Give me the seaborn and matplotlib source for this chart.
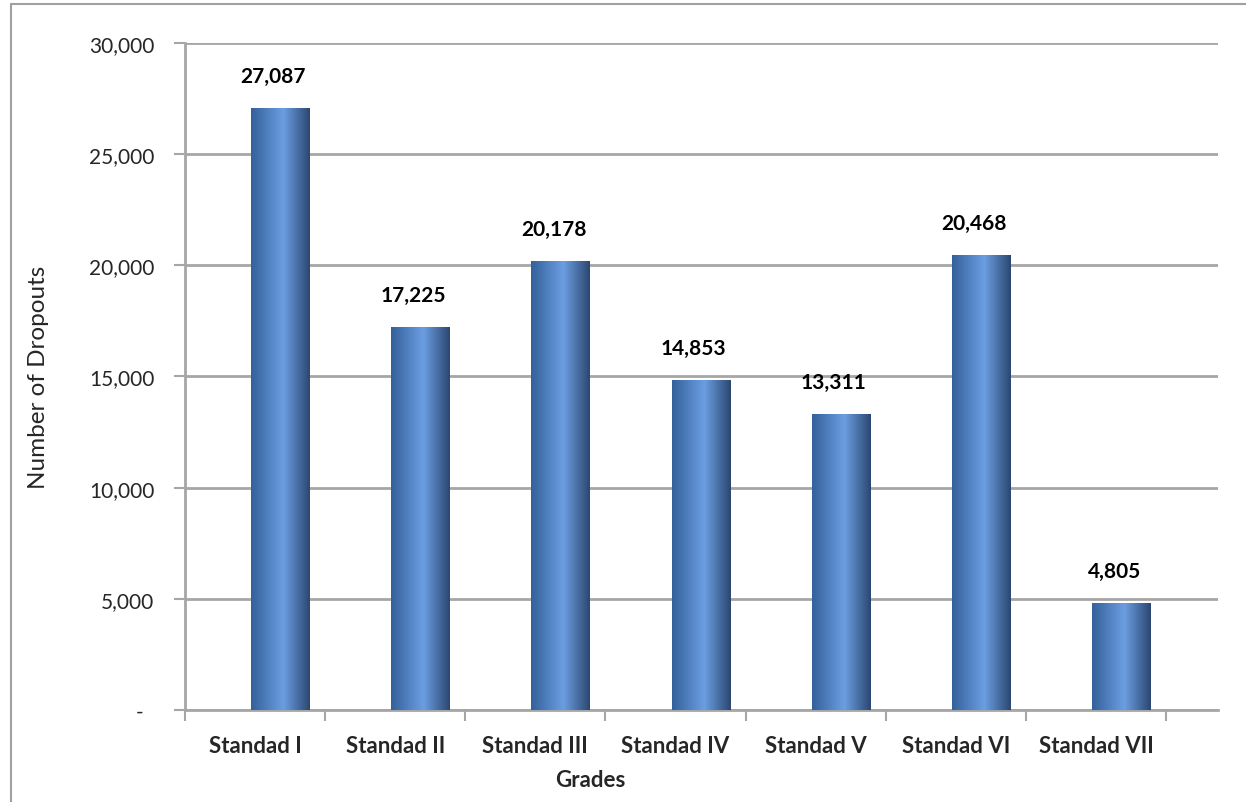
import numpy as np
import pandas as pd
import matplotlib
matplotlib.use('Agg')
import matplotlib.pyplot as plt
from matplotlib.colors import LinearSegmentedColormap
from matplotlib.lines import Line2D
from matplotlib.ticker import FuncFormatter
import seaborn as sns

grades = ['Standad I', 'Standad II', 'Standad III', 'Standad IV',
          'Standad V', 'Standad VI', 'Standad VII']
dropouts = [27087, 17225, 20178, 14853, 13311, 20468, 4805]
y_ticks = [0, 5000, 10000, 15000, 20000, 25000, 30000]

sns.set_style('white')
plt.rcParams['font.family'] = ['Lato', 'DejaVu Sans']

df = pd.DataFrame({'grade': grades, 'dropouts': dropouts})

fig = plt.figure(figsize=(12.46, 8.03), dpi=100)
ax = fig.add_axes([0.1485, 0.1146, 0.829, 0.8306])

sns.barplot(data=df, x='grade', y='dropouts', color='#4f81bd', width=0.42,
            saturation=1, ax=ax, zorder=3)

# Excel風に棒を少し右へずらす
shift = 0.182

# 円柱っぽいグラデーション
cmap = LinearSegmentedColormap.from_list(
    'bar', [(0, '#34609a'), (0.55, '#6b9ee2'), (1, '#2b4770')])
grad = np.linspace(0, 1, 256).reshape(1, -1)
for p in ax.patches:
    p.set_x(p.get_x() + shift)
    x0, y0 = p.get_x(), p.get_y()
    w, h = p.get_width(), p.get_height()
    im = ax.imshow(grad, cmap=cmap, aspect='auto', extent=[x0, x0 + w, y0, y0 + h],
                   zorder=4, interpolation='bicubic')
    im.set_clip_path(p)
    p.set_edgecolor('none')

ax.set_xlim(-0.5, len(grades) - 0.5 + 0.371)
ax.set_ylim(0, 30000)

# 値ラベル
for i, v in enumerate(dropouts):
    ax.text(i + 0.13, v + 1000, '{:,}'.format(v), ha='center', va='bottom',
            fontsize=15, fontweight='bold', color='black', zorder=5)

grid_c = '#a6a6a6'
ax.set_yticks(y_ticks)
ax.yaxis.set_major_formatter(FuncFormatter(lambda v, _: '-  ' if v == 0 else '{:,.0f}'.format(v)))
ax.grid(axis='y', color=grid_c, linewidth=2, zorder=1)
ax.grid(axis='x', visible=False)
ax.tick_params(axis='y', which='major', length=8, width=1.5, color=grid_c,
               direction='out', pad=14, labelsize=15, left=True)
ax.set_xticks(range(len(grades)))
ax.set_xticklabels(grades, fontsize=16, fontweight='bold')
ax.tick_params(axis='x', which='major', length=0, pad=18)
ax.set_xticks(np.arange(-0.5, len(grades)), minor=True)
ax.tick_params(axis='x', which='minor', length=8, width=1.5, color=grid_c,
               direction='out', bottom=True)

for s in ['top', 'right']:
    ax.spines[s].set_visible(False)
for s in ['left', 'bottom']:
    ax.spines[s].set_color(grid_c)
    ax.spines[s].set_linewidth(2)
    ax.spines[s].set_zorder(2)

ax.set_ylabel('Number of Dropouts', fontsize=17.5)
ax.yaxis.set_label_coords(-0.132, 0.5)
ax.set_xlabel('Grades', fontsize=16, fontweight='bold')
ax.xaxis.set_label_coords(0.392, -0.088)

# 外枠
fig.add_artist(Line2D([11 / 1246, 11 / 1246], [0, 1 - 5 / 803], color='#a0a0a0', lw=1.5))
fig.add_artist(Line2D([11 / 1246, 1], [1 - 5 / 803, 1 - 5 / 803], color='#a0a0a0', lw=1.5))

plt.savefig('out.png', dpi=100)
